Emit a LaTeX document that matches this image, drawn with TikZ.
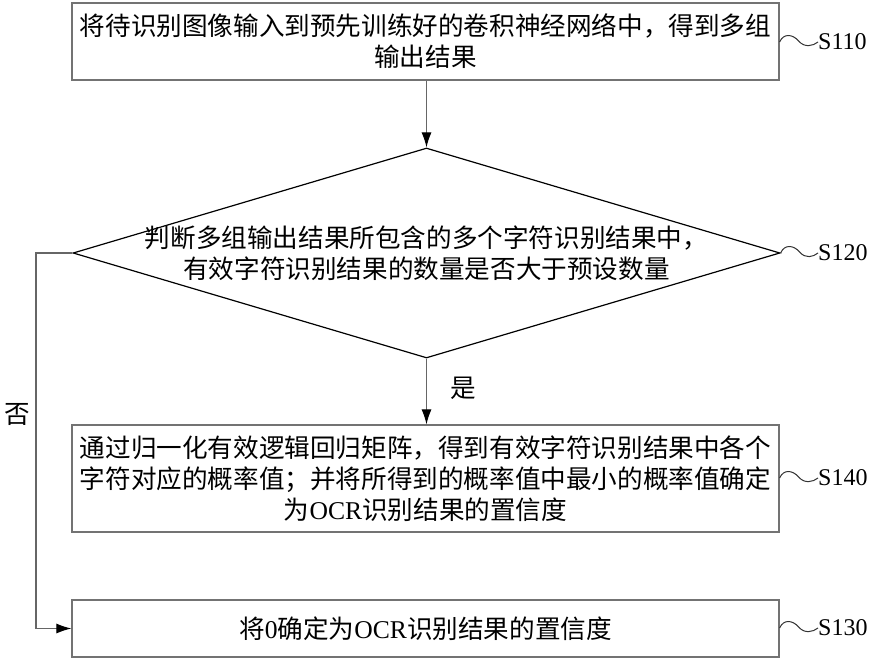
\documentclass[tikz,border=0pt]{standalone}
\usepackage{fontspec}
\setmainfont{Liberation Serif}
\newfontfamily\cjk{Noto Sans CJK SC}
\usetikzlibrary{shapes.geometric,arrows.meta}
\tikzset{
  box/.style={draw=black!55, line width=1.2pt, minimum width=707pt, inner sep=0pt},
  txt/.style={font=\cjk\fontsize{25.6}{31}\selectfont, align=center, inner sep=0pt},
  lbl/.style={font=\rmfamily\fontsize{24}{26}\selectfont, anchor=west, inner sep=0pt},
  conn/.style={draw=black!60, line width=1.1pt},
  arr/.style={conn, -{Latex[length=15pt,width=10pt,color=black,fill=black]}},
  squig/.style={draw=black!80, line width=1pt}
}
\begin{document}
\begin{tikzpicture}[x=1pt,y=-1pt]
\useasboundingbox (0,0) rectangle (873,660);
% boxes
\node[box, minimum height=77pt] (b1) at (425.5,41.5) {};
\node[txt] (t1) at (b1.center) {将待识别图像输入到预先训练好的卷积神经网络中，得到多组\\输出结果};
\node[diamond, draw=black, line width=1.2pt, minimum width=707pt, minimum height=210pt, inner sep=0pt] (d) at (426.5,253) {};
\node[txt] (t2) at (d.center) {判断多组输出结果所包含的多个字符识别结果中，\\有效字符识别结果的数量是否大于预设数量};
\node[box, minimum height=107pt] (b3) at (425.5,478.5) {};
\node[txt] (t3) at (b3.center) {通过归一化有效逻辑回归矩阵，得到有效字符识别结果中各个\\字符对应的概率值；并将所得到的概率值中最小的概率值确定\\为{\rmfamily OCR}识别结果的置信度};
\node[box, minimum height=57pt] (b4) at (425.5,628.5) {};
\node[txt] (t4) at (b4.center) {将{\rmfamily 0}确定为{\rmfamily OCR}识别结果的置信度};
% connectors
\draw[arr] (b1.south -| d.north) -- (d.north);
\draw[arr] (d.south) -- (b3.north -| d.south);
\coordinate (c1) at (36,253);
\draw[arr] (d.west) -- (c1) |- (b4.west);
\node[txt] (yes) at (463,388) {是};
\node[txt] (no) at (17,415) {否};
% step labels
\node[lbl] (s110) at (818,42) {S110};
\node[lbl] (s120) at (818,253) {S120};
\node[lbl] (s140) at (818,478) {S140};
\node[lbl] (s130) at (818,628) {S130};
\draw[squig] (b1.east |- s110.west) .. controls +(4,-9) and +(-6,-7) .. ++(19,-1) .. controls +(6,7) and +(-5,4) .. (s110.west);
\draw[squig] (d.east) .. controls +(4,-9) and +(-6,-7) .. ++(19,-1) .. controls +(6,7) and +(-5,4) .. (s120.west);
\draw[squig] (b3.east |- s140.west) .. controls +(4,-9) and +(-6,-7) .. ++(19,-1) .. controls +(6,7) and +(-5,4) .. (s140.west);
\draw[squig] (b4.east |- s130.west) .. controls +(4,-9) and +(-6,-7) .. ++(19,-1) .. controls +(6,7) and +(-5,4) .. (s130.west);
\end{tikzpicture}
\end{document}
